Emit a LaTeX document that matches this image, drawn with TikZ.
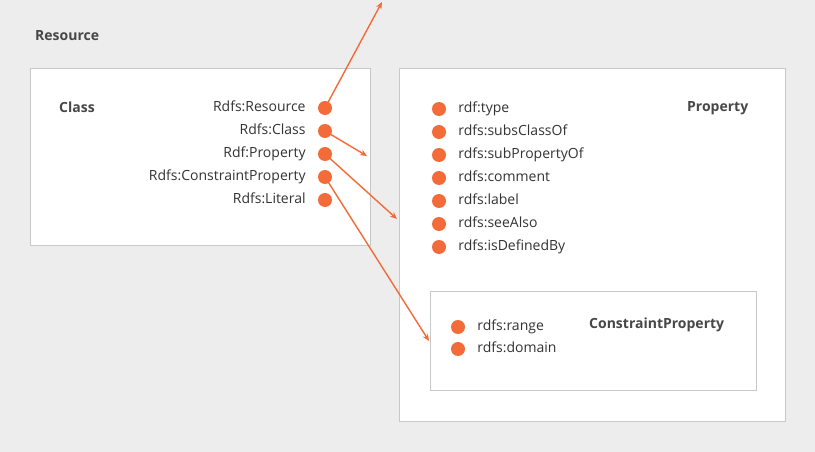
\documentclass[tikz,border=0pt]{standalone}
\usepackage{fontspec}
\setmainfont{Open Sans}
\usetikzlibrary{positioning,arrows.meta}
\definecolor{bg}{HTML}{EDEDED}
\definecolor{frame}{HTML}{C8C8C8}
\definecolor{dotorange}{HTML}{F26B38}
\definecolor{ink}{HTML}{333333}
\tikzset{
  box/.style={draw=frame, fill=white, line width=1pt},
  dot/.style={circle, fill=dotorange, inner sep=0pt, minimum size=14pt},
  item/.style={text=ink, font=\fontsize{14}{16}\selectfont, inner sep=0pt, text height=1.6ex, text depth=.4ex},
  title/.style={text=ink!90, font=\fontsize{14}{16}\selectfont\bfseries, inner sep=0pt, anchor=west},
  link/.style={draw=dotorange, line width=1.4pt, -{Stealth[length=7pt,width=6pt]}}
}
\begin{document}
\begin{tikzpicture}[x=1pt,y=-1pt]
    % Fundo e caixas
    \fill[bg] (0,0) rectangle (815,452);
    \useasboundingbox (0,0) rectangle (815,452);
    \draw[box] (30,69) rectangle (370,245);
    \draw[box] (399,69) rectangle (785,421);
    \draw[box] (430,291) rectangle (756,390);
    % Titulos
    \node[title] (resource) at (35,36)  {Resource};
    \node[title] (class)    at (59,107) {Class};
    \node[title] (property) at (687,108) {Property};
    \node[title] (constraint) at (589,325) {ConstraintProperty};
    % Itens de Class
    \node[dot] (c1) at (325,108) {};
    \node[dot] (c2) at (325,131) {};
    \node[dot] (c3) at (325,154) {};
    \node[dot] (c4) at (325,177) {};
    \node[dot] (c5) at (325,200) {};
    \node[item, left=12pt of c1] (t1) {Rdfs:Resource};
    \node[item, left=12pt of c2] (t2) {Rdfs:Class};
    \node[item, left=12pt of c3] (t3) {Rdf:Property};
    \node[item, left=12pt of c4] (t4) {Rdfs:ConstraintProperty};
    \node[item, left=12pt of c5] (t5) {Rdfs:Literal};
    % Itens de Property
    \node[dot] (p1) at (439,109) {};
    \node[dot] (p2) at (439,132) {};
    \node[dot] (p3) at (439,155) {};
    \node[dot] (p4) at (439,178) {};
    \node[dot] (p5) at (439,201) {};
    \node[dot] (p6) at (439,224) {};
    \node[dot] (p7) at (439,247) {};
    \node[item, right=12pt of p1] (q1) {rdf:type};
    \node[item, right=12pt of p2] (q2) {rdfs:subsClassOf};
    \node[item, right=12pt of p3] (q3) {rdfs:subPropertyOf};
    \node[item, right=12pt of p4] (q4) {rdfs:comment};
    \node[item, right=12pt of p5] (q5) {rdfs:label};
    \node[item, right=12pt of p6] (q6) {rdfs:seeAlso};
    \node[item, right=12pt of p7] (q7) {rdfs:isDefinedBy};
    % Itens de ConstraintProperty
    \node[dot] (k1) at (458,327) {};
    \node[dot] (k2) at (458,349) {};
    \node[item, right=12pt of k1] (m1) {rdfs:range};
    \node[item, right=12pt of k2] (m2) {rdfs:domain};
    % Setas
    \coordinate (upper) at (382,2);
    \coordinate (into1) at (367,156);
    \coordinate (into2) at (397,219);
    \coordinate (into3) at (429,341);
    \draw[link] (c1.center) -- (upper);
    \draw[link] (c2.center) -- (into1);
    \draw[link] (c3.center) -- (into2);
    \draw[link] (c4.center) -- (into3);
\end{tikzpicture}
\end{document}
